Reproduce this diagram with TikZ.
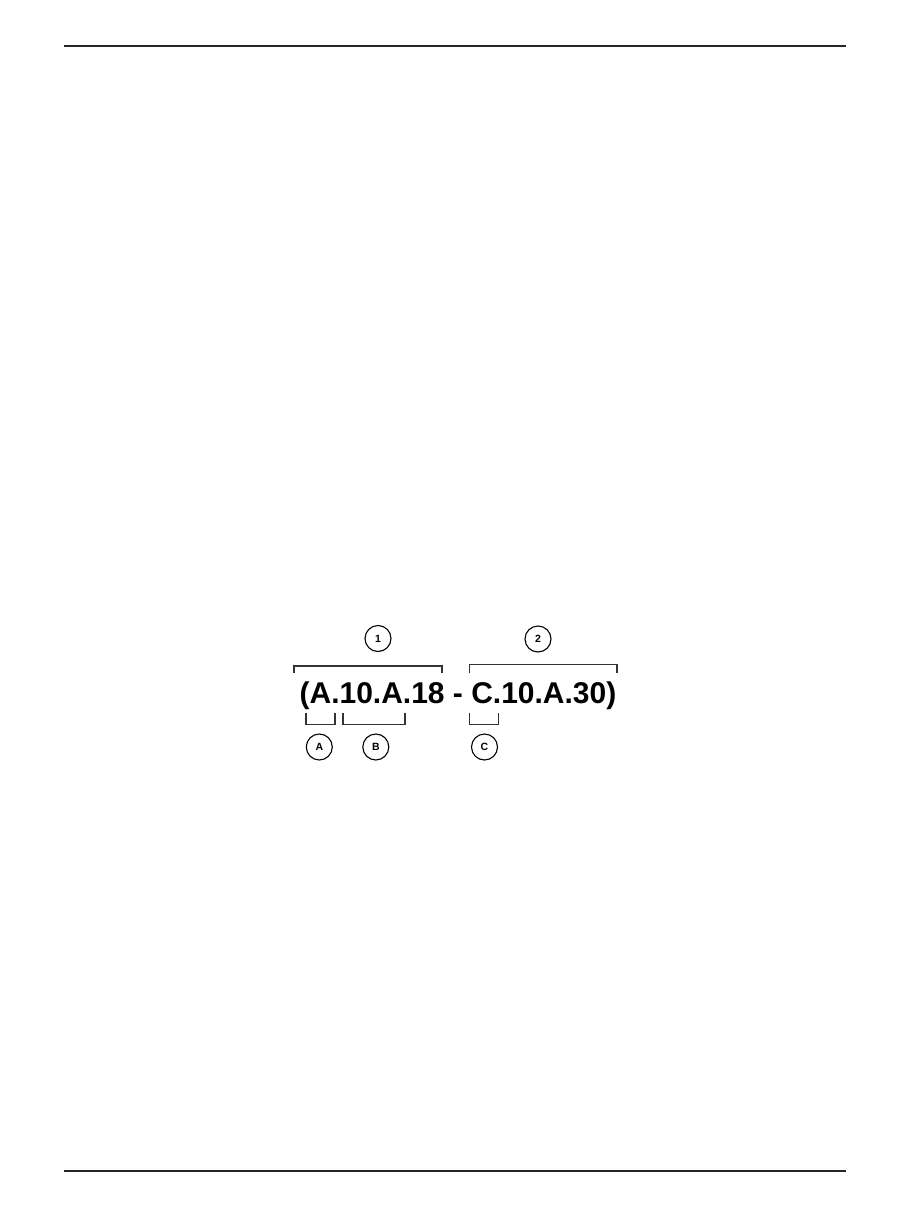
\documentclass[tikz,border=0pt]{standalone}
\usepackage{fontspec}
\setmainfont{Liberation Sans}
\begin{document}
\begin{tikzpicture}[x=1pt,y=-1pt,
  rule/.style={line width=2pt,draw=black!85},
  brk/.style={line width=1.1pt,draw=black!80},
  callout/.style={circle,draw=black,line width=1.1pt,minimum size=26pt,inner sep=0pt,font=\fontsize{10.5}{12}\selectfont\bfseries},
  code/.style={font=\fontsize{30}{36}\selectfont\bfseries,inner sep=0pt,anchor=base}]
\useasboundingbox (0,0) rectangle (909,1210);
% header and footer rules
\coordinate (tl) at (64,46.3);
\coordinate (tr) at (846,46.3);
\coordinate (bl) at (64,1171.3);
\coordinate (br) at (846,1171.3);
\draw[rule] (tl) -- (tr);
\draw[rule] (bl) -- (br);
% code text
\node[code] (txt) at (458,703) {(A.10.A.18 - C.10.A.30)};
% upper brackets
\draw[brk] (294,673) -- (294,666) -- (442,666) -- (442,673);
\draw[brk] (469.5,673) -- (469.5,664.5) -- (617,664.5) -- (617,673);
% lower brackets
\draw[brk] (306,712.5) -- (306,724.5) -- (335,724.5) -- (335,712.5);
\draw[brk] (343,712.5) -- (343,724.5) -- (405,724.5) -- (405,712.5);
\draw[brk] (469.5,712.5) -- (469.5,724.5) -- (498.5,724.5) -- (498.5,712.5);
% callouts
\node[callout] (c1) at (378,638.5) {1};
\node[callout] (c2) at (538,639) {2};
\node[callout] (cA) at (319.3,747) {A};
\node[callout] (cB) at (375.8,747) {B};
\node[callout] (cC) at (484.5,747) {C};
\end{tikzpicture}
\end{document}
